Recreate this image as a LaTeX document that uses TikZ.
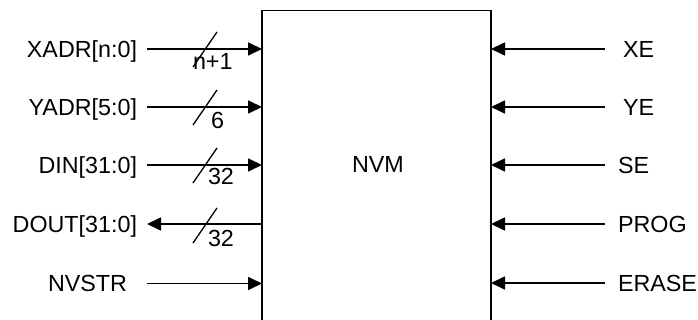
\documentclass[tikz,border=0pt]{standalone}
\usepackage{fontspec}
\setmainfont{Liberation Sans}
\usetikzlibrary{arrows.meta}
\begin{document}
\begin{tikzpicture}[x=1pt,y=-1pt,
  lbl/.style={inner sep=0pt, outer sep=0pt, font=\fontsize{23.3}{28}\selectfont, text height=16.7pt, text depth=0pt},
  sig/.style={line width=1.7pt, -{Triangle[length=14pt,width=13pt]}},
  bus/.style={line width=1.3pt}]
\useasboundingbox (0,0) rectangle (698,320);
% main box (bottom runs off the page)
\node[draw, line width=1.7pt, inner sep=0pt, outer sep=0pt, minimum width=229pt, minimum height=340pt, anchor=north west] (nvm) at (262,10.5) {};
\node[lbl] (nvmlabel) at (378,164.5) {NVM};
% left labels
\node[lbl, anchor=east] (xadr) at (137,49) {XADR[n:0]};
\node[lbl, anchor=east] (yadr) at (137,107) {YADR[5:0]};
\node[lbl, anchor=east] (din) at (137,165) {DIN[31:0]};
\node[lbl, anchor=east] (dout) at (137,224) {DOUT[31:0]};
\node[lbl, anchor=east] (nvstr) at (127,283.5) {NVSTR};
% right labels
\node[lbl, anchor=west] (xe) at (623,49) {XE};
\node[lbl, anchor=west] (ye) at (623,107) {YE};
\node[lbl, anchor=west] (se) at (618,165) {SE};
\node[lbl, anchor=west] (prog) at (618,224) {PROG};
\node[lbl, anchor=west] (erase) at (618,283) {ERASE};
% left connectors
\draw[sig] ([xshift=10pt]xadr.east) -- (nvm.west |- xadr.east);
\draw[sig] ([xshift=10pt]yadr.east) -- (nvm.west |- yadr.east);
\draw[sig] ([xshift=10pt]din.east) -- (nvm.west |- din.east);
\draw[sig] (nvm.west |- dout.east) -- ([xshift=10pt]dout.east);
\draw[sig] ([xshift=20pt]nvstr.east) -- (nvm.west |- nvstr.east);
% right connectors
\draw[sig] ([xshift=-18pt]xe.west) -- (nvm.east |- xe.west);
\draw[sig] ([xshift=-18pt]ye.west) -- (nvm.east |- ye.west);
\draw[sig] ([xshift=-13pt]se.west) -- (nvm.east |- se.west);
\draw[sig] ([xshift=-13pt]prog.west) -- (nvm.east |- prog.west);
\draw[sig] ([xshift=-13pt]erase.west) -- (nvm.east |- erase.west);
% bus slashes
\coordinate (s1) at (205,49.5);
\coordinate (s2) at (205,107.5);
\coordinate (s3) at (205,165.5);
\coordinate (s4) at (205,225.5);
\foreach \s in {s1,s2,s3,s4}
  \draw[bus] ([shift={(-12,17.5)}]\s) -- ([shift={(12,-17.5)}]\s);
\node[lbl, anchor=west] (w1) at (193,61) {n+1};
\node[lbl, anchor=west] (w2) at (211,120) {6};
\node[lbl, anchor=west] (w3) at (208,176.5) {32};
\node[lbl, anchor=west] (w4) at (208,238.5) {32};
\end{tikzpicture}
\end{document}
